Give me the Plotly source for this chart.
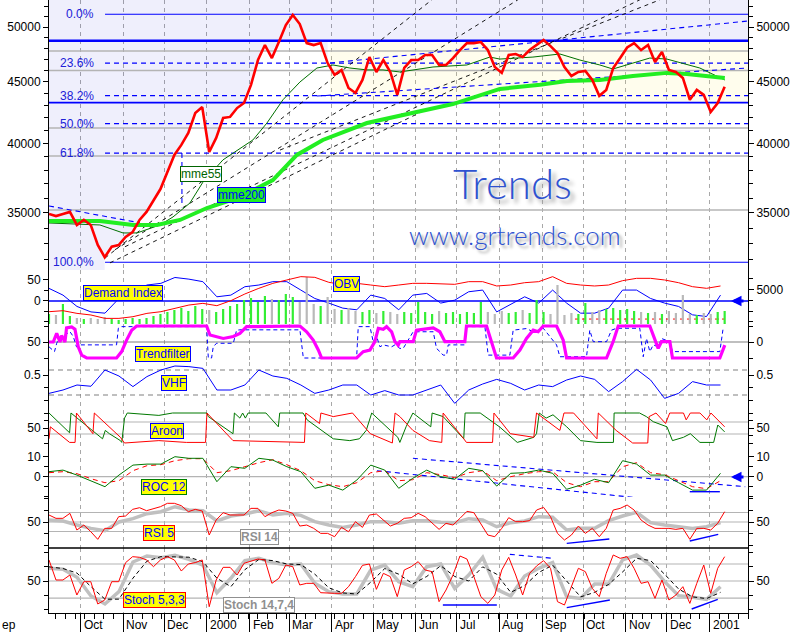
import numpy as np
import pandas as pd
import plotly.graph_objects as go

# ---------------- time base ----------------
START = pd.Timestamp("1999-09-08")
VIEW_DAYS = 509

def on_days(days):
    return START + pd.to_timedelta(np.asarray(days, dtype=float), unit="D")

X0 = START
X1 = START + pd.Timedelta(days=VIEW_DAYS)
price_dates = pd.date_range(START, START + pd.Timedelta(days=492), periods=98)
ind_dates = pd.date_range(START, START + pd.Timedelta(days=489), periods=49)

month_starts = pd.to_datetime(["1999-10-01", "1999-11-01", "1999-12-01", "2000-01-01", "2000-02-01",
                               "2000-03-01", "2000-04-01", "2000-05-01", "2000-06-01", "2000-07-01",
                               "2000-08-01", "2000-09-01", "2000-10-01", "2000-11-01", "2000-12-01",
                               "2001-01-01"])
month_labels = ["Oct", "Nov", "Dec", "2000", "Feb", "Mar", "Apr", "May", "Jun", "Jul", "Aug", "Sep",
                "Oct", "Nov", "Dec", "2001"]

# ---------------- price panel data ----------------
price = [34930, 34790, 34930, 35070, 34200, 34530, 34200, 32910, 32150, 32800,
         32910, 33420, 33740, 34530, 35070, 35870, 36640, 37860, 39120, 39880,
         40810, 42400, 42880, 39340, 40420, 41990, 42080, 42800, 43220, 44750,
         46930, 48300, 47110, 48580, 50190, 51170, 50290, 48480, 48300, 48480,
         46660, 45610, 46050, 44480, 44060, 45170, 47200, 45870, 46930, 45870,
         43900, 46220, 46930, 46930, 47390, 47390, 46490, 46490, 47110, 47840,
         48480, 48480, 48580, 47840, 46310, 45790, 47390, 47480, 47200, 47840,
         48300, 48770, 48200, 47570, 46310, 45520, 45870, 45960, 45170, 43820,
         44320, 46220, 47110, 48080, 48480, 47840, 48300, 46750, 47660, 46050,
         45870, 45350, 43490, 44320, 43900, 42480, 43210, 44580]

mme200_days = [0, 37.1, 61.2, 78.6, 95.4, 115, 139, 163, 180.5, 199.4, 231.5, 255.5, 294.1,
               328.3, 357.5, 377.1, 401.1, 425.2, 449.9, 464.5, 492.1]
mme200 = [34460, 34460, 34200, 34200, 34530, 35330, 36070, 37280, 39120, 40260, 41590, 42150,
          43130, 44400, 44750, 45080, 45170, 45520, 45790, 45700, 45350]

mme55_days = [0, 37.1, 53.9, 64.1, 80.8, 90.3, 102.6, 112.1, 126.7, 148.5, 158.7, 170.4, 182.7,
              195.1, 206.8, 219.1, 231.5, 243.2, 255.5, 279.6, 304.3, 321, 328.3, 352.4, 372,
              386.6, 401.1, 410.6, 425.2, 437.5, 449.9, 473.9, 492.1]
mme55 = [34330, 34200, 33680, 33680, 34200, 34730, 35670, 37130, 38750, 40260, 41590, 43490,
         44990, 46220, 46490, 46220, 46050, 46050, 45870, 46310, 46490, 47200, 47020, 47200,
         47480, 46930, 46490, 46130, 46660, 47110, 47020, 46220, 45170]

fib_high, fib_low = 51240, 31840
fib_ratios = [0.0, 0.236, 0.382, 0.5, 0.618, 1.0]
fib_labels = ["0.0%", "23.6%", "38.2%", "50.0%", "61.8%", "100.0%"]
fib_start_day = 40.8

blue_levels = [48700, 43250]
gray_levels = [47750, 46000, 41200, 39030, 35200]
yellow_zone = (204.6, 43250, 48700)

fan_lines = [((40.8, 32100), (278.8, 52680)),
             ((48.0, 32610), (341.4, 52680)),
             ((55.3, 32800), (430.2, 52680)),
             ((44.4, 31800), (270.0, 42420)),
             ((168.2, 39490), (444.8, 52680))]
blue_dash_lines = [((204.6, 46670), (508.9, 50580)),
                   ((195.1, 43800), (508.9, 46220)),
                   ((0, 35470), (66.2, 34340)),
                   ((96.8, 39270), (96.8, 35390))]

# ---------------- Demand index / OBV / volume ----------------
demand_index = [30, 14, -13, -26, -29, 6, 18, 38, 42, 56, 52, 46, 10, 14, 34, 38, 46, 46, 26, 6,
                -5, -17, -21, 14, 6, -21, 14, 18, -5, 2, 22, 26, -26, -9, 10, -5, 26, -5, -29, -29,
                -17, 26, 26, 6, -5, -13, -33, -37, 14]
obv = [-150, 80, -540, -920, -1700, -1700, -1310, -540, -150, 620, 1390, 1780, 1240, 2400, 3950,
       5260, 6410, 7190, 7960, 7800, 6650, 6100, 6410, 6020, 5640, 6020, 6410, 6410, 6260, 6180,
       6800, 6800, 5800, 6020, 6560, 6800, 7960, 6410, 6020, 5800, 6020, 7030, 7570, 7570, 7190,
       6560, 5640, 5260, 5800]
volume = [10, 9, 20, 8, 6, 5, 6, 5, 7, 5, 4, 5, 6, 5, 6, 8, 10, 12, 14, 16,
          13, 18, 15, 14, 12, 15, 18, 20, 24, 26, 22, 28, 25, 24, 30, 27, 22, 47, 20, 18,
          27, 15, 14, 16, 13, 12, 14, 11, 13, 12, 10, 12, 11, 22, 12, 10, 13, 11, 12, 10,
          12, 11, 22, 12, 10, 13, 11, 12, 14, 11, 24, 12, 10, 39, 9, 11, 10, 21, 12, 14,
          15, 16, 14, 15, 13, 12, 11, 12, 10, 13, 11, 29, 10, 9, 11, 10, 12, 13]
di_red_level = (-43, 383, 492)

# ---------------- Trendfilter ----------------
tf_days = [0, 3.1, 5.6, 8, 9.2, 11.6, 12.8, 16.5, 18.9, 21.3, 23.8, 27.4, 49.2, 52.9, 56.5, 60.2,
           63.8, 114.8, 117.2, 122, 126.9, 134.2, 139, 143.9, 182.7, 187.6, 192.4, 196.1, 198.5,
           224, 228.8, 233.7, 237.3, 239.8, 243.4, 245.8, 249.5, 251.9, 254.3, 255.5, 265.2,
           267.6, 272.5, 279.8, 284.6, 288.3, 302.8, 304, 318.6, 322.2, 325.9, 338, 342.9, 347.7,
           352.6, 356.2, 359.9, 369.6, 374.4, 376.9, 406, 410.8, 414.5, 437.5, 441.2, 443.6, 446,
           452.1, 454, 488.5, 492.1]
tf_vals = [50, 50, 77, 50, 70, 50, 94, 97, 90, 35, 9, 0, 0, 20, 56, 87, 100, 100, 72, 67,
           61, 67, 77, 98, 100, 82, 56, 25, 0, 0, 20, 25, 51, 93, 90, 98, 82, 51, 40, 51,
           51, 87, 90, 94, 82, 51, 51, 100, 100, 51, 0, 0, 25, 61, 87, 82, 100, 100, 56, 0,
           0, 51, 100, 100, 61, 30, 51, 51, 0, 0, 40]
tfb_days = [0, 4, 5.6, 8, 11.6, 15.3, 17.7, 20, 22.6, 49.2, 50.5, 52.9, 114.8, 116, 118.4, 119.6,
            122, 134.2, 136.6, 139, 182.7, 185.2, 224, 225.2, 233.7, 236.1, 238.6, 241, 243.4,
            249.5, 251.9, 255.5, 257.9, 265.2, 279.8, 282.2, 284.6, 287, 289.5, 290.7, 302.8, 304,
            317.4, 319.8, 335.6, 338, 347.7, 352.6, 356.2, 359.9, 369.6, 372, 391.4, 393.8, 396.3,
            406, 409.6, 413.3, 430.2, 432.7, 435.1, 437.5, 440, 443.6, 446, 452.1, 454, 488.5, 490.9]
tfb_vals = [35, 20, 46, 67, 72, 82, 67, 35, 41, 41, 93, 98, 98, 0, 0, 35, 46, 46, 87, 88,
            88, 0, 0, 98, 98, 51, 67, 35, 41, 35, 41, 30, 30, 82, 82, 30, 20, 9, 9, 41,
            41, 98, 98, 9, 9, 87, 92, 82, 87, 93, 41, 4, 4, 87, 51, 51, 87, 93, 93, 4,
            61, 20, 41, 35, 61, 51, 20, 20, 93]

# ---------------- VHF ----------------
vhf = [0.353, 0.38, 0.42, 0.41, 0.54, 0.492, 0.407, 0.487, 0.54, 0.572, 0.567, 0.553, 0.38, 0.38,
       0.42, 0.54, 0.492, 0.473, 0.42, 0.353, 0.38, 0.42, 0.42, 0.34, 0.375, 0.34, 0.34, 0.38,
       0.42, 0.273, 0.38, 0.428, 0.465, 0.433, 0.38, 0.42, 0.407, 0.46, 0.492, 0.465, 0.367,
       0.447, 0.545, 0.46, 0.313, 0.353, 0.447, 0.42, 0.42]
vhf_levels = [0.54, 0.34]

# ---------------- Aroon ----------------
aroon_up_days = [0, 15, 16, 39, 41, 44, 52, 53, 55, 57, 80, 90, 115, 116, 134, 135, 139, 141, 143, 145,
                 158, 167, 168, 185, 188, 207, 219, 226, 231, 234, 235, 254, 255.5, 260, 265, 278, 279,
                 287, 302, 303, 314, 328, 341, 353, 355, 357, 362, 367, 377, 387, 399, 411, 411.5, 430,
                 435, 440, 450, 454, 462, 467, 474, 484, 487, 492]
aroon_up = [100, 34, 100, 14, 42, 31, 8, 2, 83, 100, 92, 100, 100, 88, 31, 100, 83, 100, 83, 100,
            100, 54, 100, 100, 77, 14, 8, 14, 42, 88, 100, 19, 2, 54, 100, 54, 100, 88, 14, 100,
            100, 54, 2, 19, 31, 100, 83, 94, 54, 8, 2, 2, 100, 100, 88, 71, 54, 8, 19, 31,
            2, 2, 60, 37]
aroon_dn_days = [0, 1, 15, 19, 20, 32, 33, 52, 55, 80, 100, 114, 115, 134, 186, 187, 197, 198, 207, 221,
                 234, 250, 252, 255.5, 265, 277, 286, 287, 302, 304, 323, 324, 336, 353, 355, 372, 375,
                 382, 399, 400, 413, 425, 436, 437, 442, 449, 452, 462, 464, 467, 474, 479, 482, 492]
aroon_dn = [14, 54, 2, 2, 100, 31, 100, 19, 0, 8, 2, 2, 100, 8, 2, 100, 65, 100, 88, 100,
            31, 0, 100, 88, 42, 8, 2, 100, 14, 2, 2, 100, 31, 19, 100, 42, 100, 100, 14, 100,
            42, 0, 0, 88, 100, 65, 100, 100, 77, 100, 100, 77, 100, 54]
aroon_levels = [70, 30]

# ---------------- ROC 12 ----------------
roc = [2.5, 3.3, 0.8, -2, -5, 0.8, 5.8, 6.3, 6.3, 10, 9.2, 9.2, -2.5, 5, 4.2, 9.2, 8.3, 5, 2.5, -5.8,
       -4.2, -6.7, -1.7, 5.8, 3.3, -5.8, -0.8, 3.3, 0, -1.3, 4.2, 3, -4.7, 1.7, 2, 3.3, 1.7, -6.3,
       -4.2, -1.3, -3, 8, 6.3, 0.8, 0.8, -3, -6.7, -6.7, 1.7]
roc_signal = [2, 2.5, 1.5, -1, -3, -2, 3, 5.5, 6, 8, 9, 9, 2, 3, 5, 7, 8.5, 6, 3, -2,
              -4, -5, -3, 2, 3, -2, -1.5, 2, 1, -0.5, 2, 3, -2, 0, 1.5, 2.5, 2.5, -3, -5, -2.5,
              -2.5, 5, 7, 2, 1, -2, -5, -6, -2]
roc_dash_lines = [((265, 9.2), (507, -5)), ((238.8, 3), (425, -10.3))]
roc_support = ((466.6, -7.5), (488.5, -7.5))

# ---------------- RSI ----------------
rsi5 = [64.7, 57.7, 57.7, 68.2, 33.1, 43.6, 29.6, 13.5, 36.6, 36.6,
        61.2, 62.6, 76.6, 80.1, 73.8, 78.7, 82.2, 89.3, 89.3, 84.3,
        71.7, 76.6, 73.1, 22.6, 54.2, 69.6, 64.7, 64.7, 64.7, 78.7,
        78.7, 61.2, 69.6, 75.2, 73.1, 68.2, 41.5, 43.6, 36.6, 26.1,
        26.1, 19.1, 38.7, 29.6, 50.7, 38.7, 64.7, 66.8, 54.2, 41.5,
        47.2, 57.7, 59.1, 68.2, 61.2, 47.2, 34.5, 47.2, 43.6, 57.7,
        72.4, 69.6, 47.2, 22.6, 19.1, 36.6, 59.1, 50.7, 50.7, 52.8,
        75.2, 80.8, 61.2, 26.1, 12.1, 22.6, 41.5, 26.1, 36.6, 19.1,
        36.6, 75.2, 78.7, 85.7, 75.2, 54.2, 43.6, 36.6, 36.6, 36.6,
        34.5, 36.6, 13.5, 36.6, 36.6, 33.1, 47.2, 71.7]
rsi14 = [54.2, 52.1, 43.6, 36.6, 31.7, 50, 57, 67.5, 71.7, 82.2, 75.2, 73.8, 52.1, 62.6, 66.8, 73.8,
         64.7, 68.2, 64, 50.7, 43.6, 38.7, 43.6, 50.7, 50.7, 47.2, 52.8, 52.8, 49.3, 48.6, 57, 54.2,
         40.1, 48.6, 52.1, 61.2, 59.8, 33.1, 36.6, 36.6, 52.8, 62.6, 70.3, 48.6, 43.6, 40.1, 36.6,
         40.1, 48.6]
rsi_levels = [70, 50, 30]
rsi_support = [((377, 5), (408, 14.2)), ((466.6, 10), (487.3, 24))]

# ---------------- Stochastics ----------------
stoch5 = [87.1, 51.8, 51.8, 60.6, 25.3, 48.8, 48.8, 9.5, 16.5, 48.8,
          48.8, 82.4, 92.9, 91.8, 87.1, 75.3, 87.1, 92.9, 87.1, 67.6,
          80, 82.4, 87.1, 4.7, 51.8, 74.1, 74.1, 60.6, 81.2, 85.3,
          88.8, 87.1, 45.9, 54.7, 78.2, 75.3, 43, 45.9, 45.9, 29.4,
          28.3, 28.3, 28.3, 40, 57.7, 77.6, 80, 35.3, 63.5, 57.7,
          22.4, 69.4, 75.3, 84.1, 69.4, 66.5, 13.6, 34.1, 60.6, 94.1,
          88.8, 57.7, 22.4, 10.6, 25.3, 69.4, 91.8, 60.6, 25.3, 63.5,
          76.5, 85.9, 72.4, 13.6, 7.7, 40, 72.4, 66.5, 37.1, 22.4,
          63.5, 95.9, 90, 92.9, 72.4, 45.9, 48.8, 19.4, 51.8, 16.5,
          25.3, 40, 10.6, 45.9, 78.2, 28.3, 72.4, 92.9]
stoch14 = [72.4, 70.6, 56.5, 23.6, 9.5, 31.2, 83.5, 94.1, 91.2, 95.3, 88.2, 78.2, 29.4, 54.7, 85.9,
           90, 82.4, 78.2, 80, 45.9, 31.2, 27.1, 27.1, 69.4, 78.2, 48.8, 40, 75.3, 80, 37.1, 60.6,
           91.8, 35.3, 23.6, 58.8, 72.4, 82.4, 22.4, 19.4, 44.7, 44.7, 87.1, 95.9, 78.2, 48.8, 24.2,
           21.2, 17.7, 40]
stoch14_signal = [75, 72, 64, 40, 18, 18, 55, 85, 93, 93, 92, 84, 55, 40, 70, 88, 86, 80, 79, 62,
                  38, 29, 27, 48, 72, 62, 45, 58, 77, 58, 50, 75, 62, 30, 42, 65, 78, 50, 22, 30,
                  44, 66, 90, 86, 62, 36, 22, 19, 30]
stoch_levels = [80, 50, 20]
stoch_support = [((286.8, 7.7), (326.1, 7.7)), ((377, 3), (408.4, 16.5)), ((468, 0.6), (487, 17.7))]
stoch_resist = ((335.6, 97), (366.9, 90))

# ---------------- layout geometry ----------------
PLOT_W, PLOT_H, ML, MB = 699, 613, 49, 19


def frac(py):
    return (PLOT_H - py) / PLOT_H


def px(x, y):
    return (x - ML) / PLOT_W, (PLOT_H - y) / PLOT_H


LOG_TOP = 4.699 + 27 / 1200
LOG_BOT = 4.699 - 243 / 1200
TOP, BOT = 10 ** LOG_TOP, 10 ** LOG_BOT

fig = go.Figure()
BLUE = "#0000ff"
LAV = "rgba(40,40,220,0.075)"


def line(x, y, yaxis, color, width=1.0, dash=None):
    fig.add_trace(go.Scatter(x=x, y=y, yaxis=yaxis, mode="lines",
                             line=dict(color=color, width=width, dash=dash),
                             hoverinfo="skip", showlegend=False))


def hline(level, yaxis, color, width=1.0, dash=None, d0=0, d1=VIEW_DAYS):
    line(on_days([d0, d1]), [level, level], yaxis, color, width, dash)


def seg(p0, p1, yaxis, color, width=1.0, dash=None):
    line(on_days([p0[0], p1[0]]), [p0[1], p1[1]], yaxis, color, width, dash)


# ---- price panel backgrounds ----
fig.add_trace(go.Scatter(x=[X0, X1, X1, X0], y=[48700, 48700, TOP, TOP], yaxis="y", mode="lines",
                         fill="toself", fillcolor=LAV, line=dict(width=0), hoverinfo="skip",
                         showlegend=False))
pr = np.array(price, dtype=float)
poly_x = [X0, price_dates[8]] + list(price_dates[8:41]) + [price_dates[40], X0]
poly_y = [BOT, BOT] + list(np.minimum(pr[8:41], 48700)) + [48700, 48700]
fig.add_trace(go.Scatter(x=poly_x, y=poly_y, yaxis="y", mode="lines", fill="toself",
                         fillcolor=LAV, line=dict(width=0), hoverinfo="skip", showlegend=False))
yd, ylo, yhi = yellow_zone
fig.add_trace(go.Scatter(x=on_days([yd, VIEW_DAYS, VIEW_DAYS, yd]), y=[ylo, ylo, yhi, yhi], yaxis="y",
                         mode="lines", fill="toself", fillcolor="rgba(255,235,110,0.12)",
                         line=dict(width=0), hoverinfo="skip", showlegend=False))

for g in gray_levels:
    hline(g, "y", "#b4b4b4", 1.5)
for r, lab in zip(fib_ratios, fib_labels):
    lv = fib_high - r * (fib_high - fib_low)
    solid = r in (0.0, 1.0)
    hline(lv, "y", BLUE, 1.2, None if solid else "5px,4px", d0=fib_start_day)
hline(blue_levels[0], "y", BLUE, 2.6)
hline(blue_levels[1], "y", BLUE, 1.6)
for p0, p1 in fan_lines:
    seg(p0, p1, "y", "#000000", 0.9, "4px,4px")
for p0, p1 in blue_dash_lines:
    seg(p0, p1, "y", BLUE, 1.1, "5px,4px")

line(on_days(mme55_days), mme55, "y", "#007000", 1.0)
line(on_days(mme200_days), mme200, "y", "#22ee22", 4.0)
line(price_dates, price, "y", "#ff0000", 2.6)
fig.add_trace(go.Scatter(x=[X0], y=[40000], yaxis="y2", mode="markers", marker=dict(opacity=0),
                         hoverinfo="skip", showlegend=False))

# ---- demand index / OBV panel ----
vol_colors = ["#33ee33"] + ["#33ee33" if price[i] >= price[i - 1] else "#b9b9b9"
                            for i in range(1, len(price))]
fig.add_trace(go.Bar(x=price_dates, y=volume, yaxis="y4", marker=dict(color=vol_colors, line_width=0),
                     width=1.6 * 86400000, hoverinfo="skip", showlegend=False))
hline(0, "y3", BLUE, 1.3)
line(ind_dates, demand_index, "y3", BLUE, 1.0)
line(ind_dates, obv, "y5", "#ff0000", 1.0)
lv, d0, d1 = di_red_level
hline(lv, "y3", "#ff0000", 1.0, "4px,3px", d0=d0, d1=d1)

# ---- trendfilter panel ----
hline(50, "y6", "#808080", 1.2)
line(on_days(tfb_days), tfb_vals, "y6", BLUE, 1.0, "4px,3px")
line(on_days(tf_days), tf_vals, "y6", "#ff00ff", 3.2)
fig.add_trace(go.Scatter(x=[X0], y=[0], yaxis="y7", mode="markers", marker=dict(opacity=0),
                         hoverinfo="skip", showlegend=False))

# ---- VHF panel ----
for v in vhf_levels:
    hline(v, "y8", "#808080", 1.2, "5px,4px")
line(ind_dates, vhf, "y8", BLUE, 1.0)
fig.add_trace(go.Scatter(x=[X0], y=[0.5], yaxis="y9", mode="markers", marker=dict(opacity=0),
                         hoverinfo="skip", showlegend=False))

# ---- Aroon panel ----
for v in aroon_levels:
    hline(v, "y10", "#b4b4b4", 1.2)
line(on_days(aroon_up_days), aroon_up, "y10", "#007800", 1.0)
line(on_days(aroon_dn_days), aroon_dn, "y10", "#ff0000", 1.0)
fig.add_trace(go.Scatter(x=[X0], y=[50], yaxis="y11", mode="markers", marker=dict(opacity=0),
                         hoverinfo="skip", showlegend=False))

# ---- ROC panel ----
hline(0, "y12", "#b4b4b4", 1.2)
for p0, p1 in roc_dash_lines:
    seg(p0, p1, "y12", BLUE, 1.1, "5px,4px")
seg(roc_support[0], roc_support[1], "y12", BLUE, 1.4)
line(ind_dates, roc_signal, "y12", "#ff0000", 1.0, "5px,4px")
line(ind_dates, roc, "y12", "#007800", 1.0)
fig.add_trace(go.Scatter(x=[X0], y=[0], yaxis="y13", mode="markers", marker=dict(opacity=0),
                         hoverinfo="skip", showlegend=False))

# ---- RSI panel ----
for v in rsi_levels:
    hline(v, "y14", "#b4b4b4", 1.2)
line(ind_dates, rsi14, "y14", "#c0c0c0", 3.5)
line(price_dates, rsi5, "y14", "#ff0000", 1.0)
for p0, p1 in rsi_support:
    seg(p0, p1, "y14", BLUE, 1.4)
fig.add_trace(go.Scatter(x=[X0], y=[50], yaxis="y15", mode="markers", marker=dict(opacity=0),
                         hoverinfo="skip", showlegend=False))

# ---- Stochastics panel ----
for v in stoch_levels:
    hline(v, "y16", "#b4b4b4", 1.2)
line(ind_dates, stoch14, "y16", "#c0c0c0", 3.5)
line(ind_dates, stoch14_signal, "y16", "#000000", 1.0, "4px,3px")
line(price_dates, stoch5, "y16", "#ff0000", 1.0)
for p0, p1 in stoch_support:
    seg(p0, p1, "y16", BLUE, 1.4)
seg(stoch_resist[0], stoch_resist[1], "y16", BLUE, 1.1, "5px,4px")
fig.add_trace(go.Scatter(x=[X0], y=[50], yaxis="y17", mode="markers", marker=dict(opacity=0),
                         hoverinfo="skip", showlegend=False))

# ---------------- axes ----------------
FONT = "Liberation Sans, Arial, sans-serif"
common = dict(showgrid=False, zeroline=False, showline=True, linecolor="black", linewidth=1,
              ticks="outside", ticklen=5, tickcolor="black", tickfont=dict(size=12, color="black",
                                                                              family=FONT),
              fixedrange=True, automargin=False, anchor="x")


def left_axis(dom, rng, tv, tt, minor_vals, **kw):
    d = dict(common, domain=dom, range=rng, tickmode="array", tickvals=tv, ticktext=tt, side="left",
             minor=dict(tickmode="array", tickvals=minor_vals, ticks="outside", ticklen=4,
                        tickcolor="black"))
    d.update(kw)
    return d


def right_axis(base, rng, tv, tt, minor_vals, **kw):
    d = dict(common, overlaying=base, range=rng, tickmode="array", tickvals=tv, ticktext=tt,
             side="right",
             minor=dict(tickmode="array", tickvals=minor_vals, ticks="outside", ticklen=4,
                        tickcolor="black"))
    d.update(kw)
    return d


price_ticks = [35000, 40000, 45000, 50000]
price_minor = list(range(32000, 53000, 1000))
layout_axes = {
    "yaxis": left_axis([frac(270), 1.0], [LOG_BOT, LOG_TOP], price_ticks,
                       [str(v) for v in price_ticks], price_minor, type="log"),
    "yaxis2": right_axis("y", [LOG_BOT, LOG_TOP], price_ticks, [str(v) for v in price_ticks],
                         price_minor, type="log"),
    "yaxis3": left_axis([frac(324), frac(270)], [-54.8, 73.8], [0, 50], ["0", "50"], [-50, -25, 25]),
    "yaxis4": dict(overlaying="y3", range=[0, 54], visible=False, fixedrange=True, anchor="x"),
    "yaxis5": right_axis("y3", [-3000, 9500], [5000], ["5000"], [-2500, 0, 2500, 7500]),
    "yaxis6": left_axis([frac(362), frac(324)], [-12.5, 106.25], [50], ["50"], [0, 100]),
    "yaxis7": right_axis("y6", [-125, 112.5], [0], ["0"], [-100, 100]),
    "yaxis8": left_axis([frac(410), frac(362)], [0.22, 0.604], [0.5], ["0.5"], [0.3, 0.4]),
    "yaxis9": right_axis("y8", [0.22, 0.604], [0.5], ["0.5"], [0.3, 0.4]),
    "yaxis10": left_axis([frac(450), frac(410)], [-23.3, 110], [50], ["50"], [0, 25, 75, 100]),
    "yaxis11": right_axis("y10", [-23.3, 110], [50], ["50"], [0, 25, 75, 100]),
    "yaxis12": left_axis([frac(497), frac(450)], [-10.15, 13.35], [0, 10], ["0", "10"], [-10, -5, 5]),
    "yaxis13": right_axis("y12", [-10.15, 13.35], [0, 10], ["0", "10"], [-10, -5, 5]),
    "yaxis14": left_axis([frac(548), frac(497)], [-4.7, 102.6], [50], ["50"], [0, 25, 75, 100]),
    "yaxis15": right_axis("y14", [-4.7, 102.6], [50], ["50"], [0, 25, 75, 100]),
    "yaxis16": left_axis([0.0, frac(548)], [-6.4, 108.2], [50], ["50"], [0, 25, 75, 100]),
    "yaxis17": right_axis("y16", [-6.4, 108.2], [50], ["50"], [0, 25, 75, 100]),
}

xaxis = dict(type="date", range=[X0, X1], anchor="y16", domain=[0, 1], showline=True,
             linecolor="black", linewidth=1, ticks="outside", ticklen=18, tickcolor="black",
             tickmode="array", tickvals=month_starts, showticklabels=False, showgrid=True,
             gridcolor="#a8a8a8", griddash="4px,4px", gridwidth=1, zeroline=False, fixedrange=True,
             automargin=False,
             minor=dict(tickmode="linear", tick0="1999-09-06", dtick=7 * 86400000, ticks="outside",
                        ticklen=5, tickcolor="black", showgrid=False))

# ---------------- annotations ----------------
ann = []
for d, lab in zip(month_starts, month_labels):
    ann.append(dict(x=d, y=0, xref="x", yref="paper", text=lab, showarrow=False, xanchor="left",
                    yanchor="top", xshift=1, yshift=-3, font=dict(size=12, color="black", family=FONT)))
ann.append(dict(x=px(0, 0)[0], y=0, xref="paper", yref="paper", text="ep", showarrow=False,
                xanchor="left", yanchor="top", yshift=-3, font=dict(size=12, color="black", family=FONT)))

for r, lab in zip(fib_ratios, fib_labels):
    lv = fib_high - r * (fib_high - fib_low)
    ann.append(dict(x=on_days([34])[0], y=np.log10(lv), xref="x", yref="y", text=lab, showarrow=False,
                    xanchor="right", yanchor="middle", font=dict(size=12, color="#2020d8", family=FONT)))


def box(text, cx, cy, bg, border, color, bold=False):
    x, y = px(cx, cy)
    ann.append(dict(x=x, y=y, xref="paper", yref="paper", text=f"<b>{text}</b>" if bold else text,
                    showarrow=False, xanchor="center", yanchor="middle", bgcolor=bg, bordercolor=border,
                    borderwidth=1, borderpad=0,
                    font=dict(size=12, color=color, family=FONT)))


box("mme55", 200.5, 173.5, "#ffffff", "#006400", "#006400")
box("mme200", 241.5, 195, "#22ee22", BLUE, BLUE)
box("Demand Index", 123, 292.5, "#ffff00", BLUE, BLUE)
box("OBV", 346.5, 283.5, "#ffff00", BLUE, BLUE)
box("Trendfilter", 162.5, 353.5, "#ffff00", BLUE, BLUE)
box("VHF", 173.5, 382.5, "#ffff00", BLUE, BLUE)
box("Aroon", 167, 430.5, "#ffff00", BLUE, BLUE)
box("ROC 12", 164, 486.5, "#ffff00", "#008000", BLUE)
box("RSI 5", 159, 532.5, "#ffff00", "#ff0000", BLUE)
box("RSI 14", 259, 537, "#ffffff", "#909090", "#909090", bold=True)
box("Stoch 5,3,3", 154, 599.5, "#ffff00", "#ff0000", BLUE)
box("Stoch 14,7,4", 259, 605, "#ffffff", "#909090", "#909090", bold=True)

# watermark
wx, wy = px(512, 183)
ann.append(dict(x=wx, y=wy, xref="paper", yref="paper", text="Trends", showarrow=False,
                xanchor="center", yanchor="middle",
                font=dict(size=42, color="#2f52d0", family="Lato, sans-serif", weight=300,
                          shadow="4px 4px 4px #9a9a9a")))
wx, wy = px(515, 235)
ann.append(dict(x=wx, y=wy, xref="paper", yref="paper", text="www.grtrends.com", showarrow=False,
                xanchor="center", yanchor="middle",
                font=dict(size=26, color="#2f52d0", family="Lato, sans-serif", weight=300,
                          shadow="3px 3px 3px #9a9a9a")))

# blue arrows at right
for ay_px in (301, 477):
    ax_, ay_ = px(731, ay_px)
    ann.append(dict(x=ax_, y=ay_, xref="paper", yref="paper", text="", showarrow=True, ax=14, ay=0,
                    arrowhead=2, arrowsize=0.7, arrowwidth=3, arrowcolor=BLUE))

shapes = [dict(type="line", xref="paper", yref="paper", x0=0, x1=1, y0=frac(548), y1=frac(548),
               line=dict(color="black", width=1.5))]

fig.update_layout(width=796, height=632, margin=dict(l=ML, r=48, t=0, b=MB),
                  paper_bgcolor="white", plot_bgcolor="white", template="none",
                  showlegend=False, xaxis=xaxis, annotations=ann, shapes=shapes,
                  font=dict(family=FONT, size=12, color="black"), **layout_axes)

fig.write_html("out.html", config={"displayModeBar": False},
               post_script="document.body.style.margin='0px';")
